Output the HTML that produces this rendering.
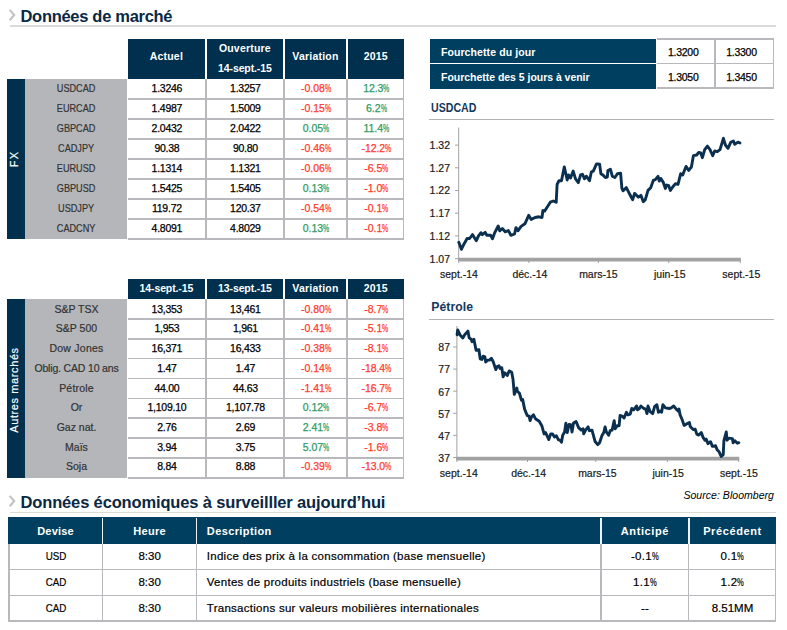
<!DOCTYPE html>
<html><head><meta charset="utf-8"><title>Données de marché</title>
<style>
html,body{margin:0;padding:0;background:#fff;}
body{width:787px;height:630px;position:relative;overflow:hidden;font-family:"Liberation Sans",sans-serif;color:#000;}
.a{position:absolute;white-space:nowrap;}
.c{text-align:center;}
.h1{font-weight:bold;font-size:16.5px;color:#0a2744;line-height:18px;letter-spacing:-0.3px;}
.hd{background:#00304e;color:#fff;font-weight:bold;font-size:10.5px;text-align:center;letter-spacing:0.2px;}
.t{-webkit-text-stroke:0.25px currentColor;font-size:10.5px;line-height:20px;text-align:center;letter-spacing:-0.25px;}
.lb{-webkit-text-stroke:0.2px currentColor;font-size:10.5px;line-height:20px;text-align:center;color:#333;}
.lbc{transform:scaleX(0.87);}
.p{letter-spacing:-0.05px;}
.pc{display:inline-block;transform:scaleX(0.66);transform-origin:0 50%;margin-right:-3.2px;}
.r{color:#ff3a2e;} .g{color:#2f9b63;}
.hl{background:#b9b9bd;}
.sec{font-weight:bold;font-size:11.5px;color:#12395c;line-height:14px;}
.ax{-webkit-text-stroke:0.2px currentColor;font-size:10.5px;line-height:12px;color:#1a1a1a;}
</style></head><body>
<svg class="a" style="left:8px;top:9px" width="9" height="14" viewBox="0 0 9 14"><path d="M1.7,0.9 L6.2,6.05 L1.7,11.2" fill="none" stroke="#c3c3c7" stroke-width="2.2"/></svg>
<div class="a h1" style="left:20.5px;top:6.5px;width:300px;height:18px;letter-spacing:-0.3px">Données de marché</div>
<div class="a " style="left:9.7px;top:25.0px;width:766px;height:1.5px;background:#dadada"></div>
<div class="a hd" style="left:127.9px;top:39.1px;width:77px;height:39.8px;line-height:35.3px">Actuel</div>
<div class="a hd" style="left:206.6px;top:39.1px;width:76.6px;height:39.8px;"><div style="margin-top:-1.0px;line-height:20px">Ouverture<br><span style="letter-spacing:-0.12px">14-sept.-15</span></div></div>
<div class="a hd" style="left:284.9px;top:39.1px;width:61.1px;height:39.8px;line-height:35.3px">Variation</div>
<div class="a hd" style="left:347.9px;top:39.1px;width:55.9px;height:39.8px;line-height:35.3px">2015</div>
<div class="a " style="left:7.2px;top:78.5px;width:17.6px;height:160.2px;background:#00304e"></div>
<div class="a " style="left:24.8px;top:78.5px;width:102.2px;height:160.2px;background:#b5b6ba"></div>
<div class="a" style="left:-46.1px;top:152.3px;width:120px;height:14px;line-height:14px;text-align:center;color:#fff;-webkit-text-stroke:0.18px #fff;font-size:11px;letter-spacing:1.2px;transform:rotate(-90deg);">FX</div>
<div class="a " style="left:127.5px;top:97.95px;width:276.5px;height:1.6px;background:#b9b9bd"></div>
<div class="a " style="left:127.5px;top:117.95px;width:276.5px;height:1.6px;background:#b9b9bd"></div>
<div class="a " style="left:127.5px;top:137.95px;width:276.5px;height:1.6px;background:#b9b9bd"></div>
<div class="a " style="left:127.5px;top:157.95px;width:276.5px;height:1.6px;background:#b9b9bd"></div>
<div class="a " style="left:127.5px;top:177.95px;width:276.5px;height:1.6px;background:#b9b9bd"></div>
<div class="a " style="left:127.5px;top:197.95px;width:276.5px;height:1.6px;background:#b9b9bd"></div>
<div class="a " style="left:127.5px;top:217.95px;width:276.5px;height:1.6px;background:#b9b9bd"></div>
<div class="a " style="left:127.5px;top:237.95px;width:276.5px;height:1.6px;background:#b9b9bd"></div>
<div class="a " style="left:205.15px;top:78.9px;width:1.6px;height:160.6px;background:#b9b9bd"></div>
<div class="a " style="left:283.25px;top:78.9px;width:1.6px;height:160.6px;background:#b9b9bd"></div>
<div class="a " style="left:346.2px;top:78.9px;width:1.6px;height:160.6px;background:#b9b9bd"></div>
<div class="a " style="left:402.8px;top:78.9px;width:1.3px;height:160.6px;background:#b9b9bd"></div>
<div class="a lb lbc" style="left:25.4px;top:78.3px;width:102.2px;height:20px;">USDCAD</div>
<div class="a t" style="left:128.4px;top:78.3px;width:77px;height:20px;">1.3246</div>
<div class="a t" style="left:207.1px;top:78.3px;width:76.6px;height:20px;">1.3257</div>
<div class="a t r p" style="left:285.4px;top:78.3px;width:61.1px;height:20px;">-0.08<span class="pc">%</span></div>
<div class="a t g p" style="left:348.4px;top:78.3px;width:55.9px;height:20px;">12.3<span class="pc">%</span></div>
<div class="a lb lbc" style="left:25.4px;top:98.3px;width:102.2px;height:20px;">EURCAD</div>
<div class="a t" style="left:128.4px;top:98.3px;width:77px;height:20px;">1.4987</div>
<div class="a t" style="left:207.1px;top:98.3px;width:76.6px;height:20px;">1.5009</div>
<div class="a t r p" style="left:285.4px;top:98.3px;width:61.1px;height:20px;">-0.15<span class="pc">%</span></div>
<div class="a t g p" style="left:348.4px;top:98.3px;width:55.9px;height:20px;">6.2<span class="pc">%</span></div>
<div class="a lb lbc" style="left:25.4px;top:118.3px;width:102.2px;height:20px;">GBPCAD</div>
<div class="a t" style="left:128.4px;top:118.3px;width:77px;height:20px;">2.0432</div>
<div class="a t" style="left:207.1px;top:118.3px;width:76.6px;height:20px;">2.0422</div>
<div class="a t g p" style="left:285.4px;top:118.3px;width:61.1px;height:20px;">0.05<span class="pc">%</span></div>
<div class="a t g p" style="left:348.4px;top:118.3px;width:55.9px;height:20px;">11.4<span class="pc">%</span></div>
<div class="a lb lbc" style="left:25.4px;top:138.3px;width:102.2px;height:20px;">CADJPY</div>
<div class="a t" style="left:128.4px;top:138.3px;width:77px;height:20px;">90.38</div>
<div class="a t" style="left:207.1px;top:138.3px;width:76.6px;height:20px;">90.80</div>
<div class="a t r p" style="left:285.4px;top:138.3px;width:61.1px;height:20px;">-0.46<span class="pc">%</span></div>
<div class="a t r p" style="left:348.4px;top:138.3px;width:55.9px;height:20px;">-12.2<span class="pc">%</span></div>
<div class="a lb lbc" style="left:25.4px;top:158.3px;width:102.2px;height:20px;">EURUSD</div>
<div class="a t" style="left:128.4px;top:158.3px;width:77px;height:20px;">1.1314</div>
<div class="a t" style="left:207.1px;top:158.3px;width:76.6px;height:20px;">1.1321</div>
<div class="a t r p" style="left:285.4px;top:158.3px;width:61.1px;height:20px;">-0.06<span class="pc">%</span></div>
<div class="a t r p" style="left:348.4px;top:158.3px;width:55.9px;height:20px;">-6.5<span class="pc">%</span></div>
<div class="a lb lbc" style="left:25.4px;top:178.3px;width:102.2px;height:20px;">GBPUSD</div>
<div class="a t" style="left:128.4px;top:178.3px;width:77px;height:20px;">1.5425</div>
<div class="a t" style="left:207.1px;top:178.3px;width:76.6px;height:20px;">1.5405</div>
<div class="a t g p" style="left:285.4px;top:178.3px;width:61.1px;height:20px;">0.13<span class="pc">%</span></div>
<div class="a t r p" style="left:348.4px;top:178.3px;width:55.9px;height:20px;">-1.0<span class="pc">%</span></div>
<div class="a lb lbc" style="left:25.4px;top:198.3px;width:102.2px;height:20px;">USDJPY</div>
<div class="a t" style="left:128.4px;top:198.3px;width:77px;height:20px;">119.72</div>
<div class="a t" style="left:207.1px;top:198.3px;width:76.6px;height:20px;">120.37</div>
<div class="a t r p" style="left:285.4px;top:198.3px;width:61.1px;height:20px;">-0.54<span class="pc">%</span></div>
<div class="a t r p" style="left:348.4px;top:198.3px;width:55.9px;height:20px;">-0.1<span class="pc">%</span></div>
<div class="a lb lbc" style="left:25.4px;top:218.3px;width:102.2px;height:20px;">CADCNY</div>
<div class="a t" style="left:128.4px;top:218.3px;width:77px;height:20px;">4.8091</div>
<div class="a t" style="left:207.1px;top:218.3px;width:76.6px;height:20px;">4.8029</div>
<div class="a t g p" style="left:285.4px;top:218.3px;width:61.1px;height:20px;">0.13<span class="pc">%</span></div>
<div class="a t r p" style="left:348.4px;top:218.3px;width:55.9px;height:20px;">-0.1<span class="pc">%</span></div>
<div class="a hd" style="left:127.9px;top:278.8px;width:77px;height:20.4px;line-height:19.9px"><span style="letter-spacing:-0.12px">14-sept.-15</span></div>
<div class="a hd" style="left:206.6px;top:278.8px;width:76.6px;height:20.4px;line-height:19.9px"><span style="letter-spacing:-0.12px">13-sept.-15</span></div>
<div class="a hd" style="left:284.9px;top:278.8px;width:61.1px;height:20.4px;line-height:19.9px">Variation</div>
<div class="a hd" style="left:347.9px;top:278.8px;width:55.9px;height:20.4px;line-height:19.9px">2015</div>
<div class="a " style="left:7.2px;top:298.8px;width:17.6px;height:179.02999999999997px;background:#00304e"></div>
<div class="a " style="left:24.8px;top:298.8px;width:102.2px;height:179.02999999999997px;background:#b5b6ba"></div>
<div class="a" style="left:-46.1px;top:382.915px;width:120px;height:14px;line-height:14px;text-align:center;color:#fff;-webkit-text-stroke:0.18px #fff;font-size:11px;letter-spacing:0.6px;transform:rotate(-90deg);">Autres marchés</div>
<div class="a " style="left:127.5px;top:318.12px;width:276.5px;height:1.6px;background:#b9b9bd"></div>
<div class="a " style="left:127.5px;top:337.99px;width:276.5px;height:1.6px;background:#b9b9bd"></div>
<div class="a " style="left:127.5px;top:357.86px;width:276.5px;height:1.6px;background:#b9b9bd"></div>
<div class="a " style="left:127.5px;top:377.73px;width:276.5px;height:1.6px;background:#b9b9bd"></div>
<div class="a " style="left:127.5px;top:397.6px;width:276.5px;height:1.6px;background:#b9b9bd"></div>
<div class="a " style="left:127.5px;top:417.47px;width:276.5px;height:1.6px;background:#b9b9bd"></div>
<div class="a " style="left:127.5px;top:437.34px;width:276.5px;height:1.6px;background:#b9b9bd"></div>
<div class="a " style="left:127.5px;top:457.21px;width:276.5px;height:1.6px;background:#b9b9bd"></div>
<div class="a " style="left:127.5px;top:477.08px;width:276.5px;height:1.6px;background:#b9b9bd"></div>
<div class="a " style="left:205.15px;top:299.2px;width:1.6px;height:179.42999999999998px;background:#b9b9bd"></div>
<div class="a " style="left:283.25px;top:299.2px;width:1.6px;height:179.42999999999998px;background:#b9b9bd"></div>
<div class="a " style="left:346.2px;top:299.2px;width:1.6px;height:179.42999999999998px;background:#b9b9bd"></div>
<div class="a " style="left:402.8px;top:299.2px;width:1.3px;height:179.42999999999998px;background:#b9b9bd"></div>
<div class="a lb" style="left:25.4px;top:298.6px;width:102.2px;height:20px;">S&amp;P TSX</div>
<div class="a t" style="left:128.4px;top:298.6px;width:77px;height:20px;">13,353</div>
<div class="a t" style="left:207.1px;top:298.6px;width:76.6px;height:20px;">13,461</div>
<div class="a t r p" style="left:285.4px;top:298.6px;width:61.1px;height:20px;">-0.80<span class="pc">%</span></div>
<div class="a t r p" style="left:348.4px;top:298.6px;width:55.9px;height:20px;">-8.7<span class="pc">%</span></div>
<div class="a lb" style="left:25.4px;top:318.3px;width:102.2px;height:20px;">S&amp;P 500</div>
<div class="a t" style="left:128.4px;top:318.3px;width:77px;height:20px;">1,953</div>
<div class="a t" style="left:207.1px;top:318.3px;width:76.6px;height:20px;">1,961</div>
<div class="a t r p" style="left:285.4px;top:318.3px;width:61.1px;height:20px;">-0.41<span class="pc">%</span></div>
<div class="a t r p" style="left:348.4px;top:318.3px;width:55.9px;height:20px;">-5.1<span class="pc">%</span></div>
<div class="a lb" style="left:25.4px;top:338.1px;width:102.2px;height:20px;"><span style="letter-spacing:0.25px">Dow Jones</span></div>
<div class="a t" style="left:128.4px;top:338.1px;width:77px;height:20px;">16,371</div>
<div class="a t" style="left:207.1px;top:338.1px;width:76.6px;height:20px;">16,433</div>
<div class="a t r p" style="left:285.4px;top:338.1px;width:61.1px;height:20px;">-0.38<span class="pc">%</span></div>
<div class="a t r p" style="left:348.4px;top:338.1px;width:55.9px;height:20px;">-8.1<span class="pc">%</span></div>
<div class="a lb" style="left:25.4px;top:357.8px;width:102.2px;height:20px;"><span style="letter-spacing:-0.17px">Oblig. CAD 10 ans</span></div>
<div class="a t" style="left:128.4px;top:357.8px;width:77px;height:20px;">1.47</div>
<div class="a t" style="left:207.1px;top:357.8px;width:76.6px;height:20px;">1.47</div>
<div class="a t r p" style="left:285.4px;top:357.8px;width:61.1px;height:20px;">-0.14<span class="pc">%</span></div>
<div class="a t r p" style="left:348.4px;top:357.8px;width:55.9px;height:20px;">-18.4<span class="pc">%</span></div>
<div class="a lb" style="left:25.4px;top:377.5px;width:102.2px;height:20px;"><span style="letter-spacing:0.2px">Pétrole</span></div>
<div class="a t" style="left:128.4px;top:377.5px;width:77px;height:20px;">44.00</div>
<div class="a t" style="left:207.1px;top:377.5px;width:76.6px;height:20px;">44.63</div>
<div class="a t r p" style="left:285.4px;top:377.5px;width:61.1px;height:20px;">-1.41<span class="pc">%</span></div>
<div class="a t r p" style="left:348.4px;top:377.5px;width:55.9px;height:20px;">-16.7<span class="pc">%</span></div>
<div class="a lb" style="left:25.4px;top:397.2px;width:102.2px;height:20px;">Or</div>
<div class="a t" style="left:128.4px;top:397.2px;width:77px;height:20px;">1,109.10</div>
<div class="a t" style="left:207.1px;top:397.2px;width:76.6px;height:20px;">1,107.78</div>
<div class="a t g p" style="left:285.4px;top:397.2px;width:61.1px;height:20px;">0.12<span class="pc">%</span></div>
<div class="a t r p" style="left:348.4px;top:397.2px;width:55.9px;height:20px;">-6.7<span class="pc">%</span></div>
<div class="a lb" style="left:25.4px;top:417.0px;width:102.2px;height:20px;">Gaz nat.</div>
<div class="a t" style="left:128.4px;top:417.0px;width:77px;height:20px;">2.76</div>
<div class="a t" style="left:207.1px;top:417.0px;width:76.6px;height:20px;">2.69</div>
<div class="a t g p" style="left:285.4px;top:417.0px;width:61.1px;height:20px;">2.41<span class="pc">%</span></div>
<div class="a t r p" style="left:348.4px;top:417.0px;width:55.9px;height:20px;">-3.8<span class="pc">%</span></div>
<div class="a lb" style="left:25.4px;top:436.7px;width:102.2px;height:20px;">Maïs</div>
<div class="a t" style="left:128.4px;top:436.7px;width:77px;height:20px;">3.94</div>
<div class="a t" style="left:207.1px;top:436.7px;width:76.6px;height:20px;">3.75</div>
<div class="a t g p" style="left:285.4px;top:436.7px;width:61.1px;height:20px;">5.07<span class="pc">%</span></div>
<div class="a t r p" style="left:348.4px;top:436.7px;width:55.9px;height:20px;">-1.6<span class="pc">%</span></div>
<div class="a lb" style="left:25.4px;top:456.4px;width:102.2px;height:20px;">Soja</div>
<div class="a t" style="left:128.4px;top:456.4px;width:77px;height:20px;">8.84</div>
<div class="a t" style="left:207.1px;top:456.4px;width:76.6px;height:20px;">8.88</div>
<div class="a t r p" style="left:285.4px;top:456.4px;width:61.1px;height:20px;">-0.39<span class="pc">%</span></div>
<div class="a t r p" style="left:348.4px;top:456.4px;width:55.9px;height:20px;">-13.0<span class="pc">%</span></div>
<div class="a " style="left:429.9px;top:38.8px;width:226.6px;height:23.9px;background:#003f5f;color:#fff;font-weight:bold;font-size:10.5px;letter-spacing:0.1px;line-height:27.8px;padding-left:11px;box-sizing:border-box">Fourchette du jour</div>
<div class="a " style="left:429.9px;top:64.3px;width:226.6px;height:24.4px;background:#003f5f;color:#fff;font-weight:bold;font-size:10.5px;letter-spacing:-0.03px;line-height:26px;padding-left:11.2px;box-sizing:border-box">Fourchette des 5 jours à venir</div>
<div class="a " style="left:656.5px;top:38.4px;width:117.6px;height:1.5px;background:#b9b9bd"></div>
<div class="a " style="left:656.5px;top:62.8px;width:117.6px;height:1.5px;background:#b9b9bd"></div>
<div class="a " style="left:656.5px;top:87.2px;width:117.6px;height:1.5px;background:#b9b9bd"></div>
<div class="a " style="left:714.2px;top:38.4px;width:1.5px;height:50.3px;background:#b9b9bd"></div>
<div class="a " style="left:772.7px;top:38.4px;width:1.5px;height:50.3px;background:#b9b9bd"></div>
<div class="a t" style="left:654px;top:41.8px;width:58.5px;height:20px;">1.3200</div>
<div class="a t" style="left:712.2px;top:41.8px;width:58.5px;height:20px;">1.3300</div>
<div class="a t" style="left:654px;top:66.8px;width:58.5px;height:20px;">1.3050</div>
<div class="a t" style="left:712.2px;top:66.8px;width:58.5px;height:20px;">1.3450</div>
<div class="a sec" style="left:431.3px;top:100.6px;width:100px;height:14px;font-size:12.2px;transform:scaleX(0.87);transform-origin:0 0">USDCAD</div>
<div class="a " style="left:429px;top:118.6px;width:345px;height:1.2px;background:#b4b4b8"></div>
<svg class="a" style="left:0;top:0" width="787" height="630" viewBox="0 0 787 630">
<g stroke="#a2a2a2" fill="none">
<path d="M458.7,127.5 V261" stroke-width="1"/>
<path d="M455,145.1 H458.7" stroke-width="1"/>
<path d="M455,167.8 H458.7" stroke-width="1"/>
<path d="M455,190.5 H458.7" stroke-width="1"/>
<path d="M455,213.2 H458.7" stroke-width="1"/>
<path d="M455,235.9 H458.7" stroke-width="1"/>
<path d="M455,258.6 H458.7" stroke-width="1"/>
<path d="M458.2,259.7 H740.8" stroke-width="3.8"/>
<path d="M458.7,259 V263" stroke-width="1"/>
<path d="M528.9,259 V263" stroke-width="1"/>
<path d="M598.4,259 V263" stroke-width="1"/>
<path d="M668.8,259 V263" stroke-width="1"/>
<path d="M740.3,259 V263" stroke-width="1"/>
<path d="M456.9,326 V460" stroke-width="1"/>
<path d="M453.2,347 H456.9" stroke-width="1"/>
<path d="M453.2,369.1 H456.9" stroke-width="1"/>
<path d="M453.2,391.2 H456.9" stroke-width="1"/>
<path d="M453.2,413.3 H456.9" stroke-width="1"/>
<path d="M453.2,435.4 H456.9" stroke-width="1"/>
<path d="M453.2,457.5 H456.9" stroke-width="1"/>
<path d="M456.4,458.7 H739.2" stroke-width="3.8"/>
<path d="M456.9,458 V462" stroke-width="1"/>
<path d="M527.5,458 V462" stroke-width="1"/>
<path d="M595.8,458 V462" stroke-width="1"/>
<path d="M667.3,458 V462" stroke-width="1"/>
<path d="M738.7,458 V462" stroke-width="1"/>
</g>
<path d="M458.8,242.3 L461.4,249.3 L463.9,244.2 L467.1,238.5 L469.6,238.5 L472.5,234.6 L474.1,237.2 L476.3,240.7 L478.5,235.9 L481.0,232.7 L482.3,234.6 L485.2,232.4 L486.8,235.3 L490.6,235.3 L492.5,238.7 L494.4,233.4 L498.2,226.0 L499.7,230.8 L502.3,228.5 L505.2,231.8 L508.4,230.6 L510.9,235.3 L514.5,234.0 L516.0,227.6 L517.9,230.8 L521.1,226.4 L524.9,223.8 L528.7,215.3 L531.2,219.4 L535.1,217.5 L538.9,216.8 L542.0,217.5 L542.9,210.5 L544.6,211.1 L547.1,207.3 L550.3,202.2 L553.3,201.0 L556.2,202.3 L557.1,184.5 L559.0,180.7 L561.5,180.7 L564.3,166.9 L567.2,180.0 L568.5,174.9 L570.4,178.1 L573.2,171.1 L575.5,178.8 L578.3,182.6 L580.6,174.9 L582.5,174.3 L584.4,178.8 L586.3,176.2 L589.5,180.7 L591.4,171.8 L593.3,171.1 L596.5,163.9 L599.6,164.1 L600.9,173.7 L602.8,174.9 L605.4,177.5 L607.3,177.1 L607.9,170.5 L610.4,169.2 L612.3,176.2 L614.9,177.5 L617.4,173.7 L620.6,173.3 L621.9,188.3 L623.1,190.8 L626.3,187.6 L628.9,192.7 L632.7,199.7 L634.6,193.4 L638.4,197.2 L640.9,195.3 L643.3,201.7 L645.3,199.7 L648.0,190.4 L650.7,187.7 L653.3,180.4 L655.3,179.7 L658.0,176.4 L659.3,181.0 L660.7,178.4 L663.3,182.4 L665.4,188.4 L666.7,185.0 L668.7,185.7 L670.4,190.4 L672.7,187.0 L675.4,183.7 L678.0,184.4 L680.7,173.7 L682.7,175.0 L686.0,166.4 L688.7,170.4 L691.4,167.0 L693.4,155.7 L696.7,155.0 L698.7,152.4 L700.7,153.0 L702.4,157.7 L704.7,149.7 L707.4,146.1 L710.0,149.7 L712.7,155.7 L714.7,151.0 L717.4,151.7 L720.0,149.7 L723.4,138.3 L725.4,145.0 L728.0,148.3 L730.7,142.3 L733.4,141.0 L734.7,144.3 L738.0,142.1 L740.0,143.0" fill="none" stroke="#0b2f4e" stroke-width="2.9" stroke-linejoin="round" stroke-linecap="round"/>
<path d="M457.1,334.7 L457.7,329.9 L460.3,335.3 L462.8,337.9 L464.7,334.7 L467.9,331.1 L469.2,337.9 L471.1,339.2 L472.1,341.7 L473.9,339.2 L476.1,350.2 L478.9,349.7 L480.2,358.8 L481.9,359.5 L483.1,356.3 L484.8,356.6 L485.7,362.0 L487.6,360.1 L489.5,360.1 L491.4,358.2 L493.3,362.0 L495.8,369.6 L497.1,366.5 L499.0,365.8 L500.0,368.4 L501.8,367.7 L503.1,376.9 L504.7,372.8 L507.3,375.4 L509.2,370.9 L511.7,372.2 L513.0,379.2 L514.3,394.4 L516.8,388.1 L517.4,391.3 L519.5,393.3 L521.4,400.2 L522.7,399.6 L524.6,409.1 L527.2,415.5 L529.1,416.1 L530.1,420.6 L531.6,416.8 L533.5,414.9 L535.4,418.7 L539.2,421.2 L541.8,425.7 L544.1,433.9 L545.6,432.6 L548.8,439.6 L550.7,433.9 L552.6,433.9 L554.5,437.1 L556.4,435.8 L558.3,439.6 L560.2,440.3 L561.5,442.2 L562.7,435.2 L564.6,432.0 L565.9,423.1 L567.2,432.6 L569.1,424.4 L571.0,425.0 L572.0,432.0 L573.5,423.1 L576.1,421.6 L578.6,427.6 L581.2,430.1 L583.1,428.8 L583.7,433.9 L585.6,430.1 L588.1,426.9 L589.4,430.7 L592.0,430.1 L593.2,434.6 L595.1,441.5 L597.7,444.7 L599.6,442.8 L601.9,435.8 L603.8,432.6 L605.1,426.9 L606.4,432.0 L608.6,435.2 L610.2,430.7 L612.1,430.1 L614.2,420.6 L615.2,428.8 L617.2,425.7 L619.1,425.7 L620.1,415.5 L622.2,416.1 L624.1,418.0 L626.4,412.3 L628.0,414.9 L630.2,414.2 L631.8,408.5 L633.7,409.8 L636.6,406.0 L637.5,409.8 L639.4,408.5 L640.9,406.0 L643.8,408.5 L645.7,409.1 L647.0,413.6 L648.0,406.0 L650.2,411.7 L652.7,413.6 L654.6,406.6 L656.9,404.7 L658.4,412.3 L660.4,411.0 L661.6,412.3 L662.9,404.7 L665.4,407.9 L669.3,408.5 L671.2,407.9 L673.7,406.0 L676.2,409.1 L678.1,411.0 L679.0,409.1 L680.1,414.9 L682.0,419.3 L684.1,425.4 L686.6,423.9 L689.4,422.6 L690.2,426.4 L693.2,429.5 L695.2,429.3 L696.8,434.1 L698.8,435.1 L701.3,432.5 L702.9,437.1 L704.9,440.2 L706.2,439.1 L708.0,443.7 L710.5,441.7 L712.5,446.3 L715.6,445.7 L717.1,449.8 L719.1,451.8 L721.2,456.4 L723.2,454.9 L723.9,440.7 L726.3,432.0 L727.0,440.2 L728.8,438.1 L732.4,438.6 L733.1,442.7 L734.9,440.7 L737.4,443.2 L738.8,442.7" fill="none" stroke="#0b2f4e" stroke-width="2.9" stroke-linejoin="round" stroke-linecap="round"/>
</svg>
<div class="a ax" style="left:420px;top:139.0px;width:30px;height:12px;text-align:right">1.32</div>
<div class="a ax" style="left:420px;top:161.70000000000002px;width:30px;height:12px;text-align:right">1.27</div>
<div class="a ax" style="left:420px;top:184.4px;width:30px;height:12px;text-align:right">1.22</div>
<div class="a ax" style="left:420px;top:207.1px;width:30px;height:12px;text-align:right">1.17</div>
<div class="a ax" style="left:420px;top:229.8px;width:30px;height:12px;text-align:right">1.12</div>
<div class="a ax" style="left:420px;top:252.50000000000003px;width:30px;height:12px;text-align:right">1.07</div>
<div class="a ax" style="left:429px;top:267.5px;width:60px;height:12px;text-align:center">sept.-14</div>
<div class="a ax" style="left:499.9px;top:267.5px;width:60px;height:12px;text-align:center">déc.-14</div>
<div class="a ax" style="left:568.4px;top:267.5px;width:60px;height:12px;text-align:center">mars-15</div>
<div class="a ax" style="left:639.8px;top:267.5px;width:60px;height:12px;text-align:center">juin-15</div>
<div class="a ax" style="left:711.3px;top:267.5px;width:60px;height:12px;text-align:center">sept.-15</div>
<div class="a sec" style="left:431.3px;top:300px;width:100px;height:14px;font-size:12.2px;letter-spacing:0.05px">Pétrole</div>
<div class="a " style="left:429px;top:318.7px;width:345px;height:1.2px;background:#b4b4b8"></div>
<div class="a ax" style="left:420px;top:341.3px;width:30px;height:12px;text-align:right">87</div>
<div class="a ax" style="left:420px;top:363.40000000000003px;width:30px;height:12px;text-align:right">77</div>
<div class="a ax" style="left:420px;top:385.5px;width:30px;height:12px;text-align:right">67</div>
<div class="a ax" style="left:420px;top:407.6px;width:30px;height:12px;text-align:right">57</div>
<div class="a ax" style="left:420px;top:429.7px;width:30px;height:12px;text-align:right">47</div>
<div class="a ax" style="left:420px;top:451.8px;width:30px;height:12px;text-align:right">37</div>
<div class="a ax" style="left:428.8px;top:466.5px;width:60px;height:12px;text-align:center">sept.-14</div>
<div class="a ax" style="left:498.70000000000005px;top:466.5px;width:60px;height:12px;text-align:center">déc.-14</div>
<div class="a ax" style="left:567.4px;top:466.5px;width:60px;height:12px;text-align:center">mars-15</div>
<div class="a ax" style="left:638.2px;top:466.5px;width:60px;height:12px;text-align:center">juin-15</div>
<div class="a ax" style="left:709px;top:466.5px;width:60px;height:12px;text-align:center">sept.-15</div>
<div class="a " style="left:674px;top:489.2px;width:100px;height:12px;text-align:right;font-style:italic;font-size:10.5px;line-height:12px;letter-spacing:0.04px">Source: Bloomberg</div>
<svg class="a" style="left:8px;top:495.4px" width="9" height="14" viewBox="0 0 9 14"><path d="M1.7,0.9 L6.2,6.05 L1.7,11.2" fill="none" stroke="#c3c3c7" stroke-width="2.2"/></svg>
<div class="a h1" style="left:20.5px;top:492.5px;width:500px;height:18px;letter-spacing:-0.145px">Données économiques à surveilller aujourd’hui</div>
<div class="a " style="left:9.7px;top:511.7px;width:766px;height:1.5px;background:#dadada"></div>
<div class="a " style="left:8.2px;top:517.2px;width:768.0px;height:26.399999999999977px;background:#003f5f"></div>
<div class="a " style="left:101.69999999999999px;top:518.2px;width:1.8px;height:25.399999999999977px;background:#eef2f5"></div>
<div class="a " style="left:195.7px;top:518.2px;width:1.8px;height:25.399999999999977px;background:#eef2f5"></div>
<div class="a " style="left:600.2px;top:518.2px;width:1.8px;height:25.399999999999977px;background:#eef2f5"></div>
<div class="a " style="left:687.9px;top:518.2px;width:1.8px;height:25.399999999999977px;background:#eef2f5"></div>
<div class="a " style="left:8.5px;top:518.45px;width:94.1px;height:26.4px;color:#fff;font-weight:bold;font-size:11px;letter-spacing:0.2px;line-height:26.4px;text-align:center">Devise</div>
<div class="a " style="left:102.6px;top:518.45px;width:94.0px;height:26.4px;color:#fff;font-weight:bold;font-size:11px;letter-spacing:0.3px;line-height:26.4px;text-align:center">Heure</div>
<div class="a " style="left:196.6px;top:518.45px;width:404.5px;height:26.4px;color:#fff;font-weight:bold;font-size:11px;letter-spacing:0.4px;line-height:26.4px;text-align:left;padding-left:10.2px;box-sizing:border-box">Description</div>
<div class="a " style="left:601.1px;top:518.45px;width:87.69999999999993px;height:26.4px;color:#fff;font-weight:bold;font-size:11px;letter-spacing:0.6px;line-height:26.4px;text-align:center">Anticipé</div>
<div class="a " style="left:688.8px;top:518.45px;width:87.40000000000009px;height:26.4px;color:#fff;font-weight:bold;font-size:11px;letter-spacing:0.6px;line-height:26.4px;text-align:center">Précédent</div>
<div class="a " style="left:8.5px;top:568.65px;width:767.7px;height:1.4px;background:#b9b9bd"></div>
<div class="a " style="left:8.5px;top:594.55px;width:767.7px;height:1.4px;background:#b9b9bd"></div>
<div class="a " style="left:8.5px;top:620.25px;width:767.7px;height:1.4px;background:#b9b9bd"></div>
<div class="a " style="left:8.4px;top:543.6px;width:1.4px;height:78.05000000000003px;background:#b9b9bd"></div>
<div class="a " style="left:101.89999999999999px;top:543.6px;width:1.4px;height:78.05000000000003px;background:#b9b9bd"></div>
<div class="a " style="left:195.9px;top:543.6px;width:1.4px;height:78.05000000000003px;background:#b9b9bd"></div>
<div class="a " style="left:600.4px;top:543.6px;width:1.4px;height:78.05000000000003px;background:#b9b9bd"></div>
<div class="a " style="left:688.0999999999999px;top:543.6px;width:1.4px;height:78.05000000000003px;background:#b9b9bd"></div>
<div class="a " style="left:774.9px;top:543.6px;width:1.4px;height:78.05000000000003px;background:#b9b9bd"></div>
<div class="a " style="left:8.5px;top:544.3000000000001px;width:94.1px;height:25.8px;-webkit-text-stroke:0.2px currentColor;font-size:11.5px;line-height:25.8px;text-align:center;transform:scaleX(0.85)">USD</div>
<div class="a " style="left:102.6px;top:544.3000000000001px;width:94.0px;height:25.8px;-webkit-text-stroke:0.2px currentColor;font-size:11.5px;line-height:25.8px;text-align:center">8:30</div>
<div class="a " style="left:196.6px;top:544.3000000000001px;width:404.5px;height:25.8px;-webkit-text-stroke:0.2px currentColor;font-size:11.5px;line-height:25.8px;text-align:left;padding-left:10.2px;box-sizing:border-box;letter-spacing:0.27px">Indice des prix à la consommation (base mensuelle)</div>
<div class="a " style="left:601.1px;top:544.3000000000001px;width:87.69999999999993px;height:25.8px;-webkit-text-stroke:0.2px currentColor;font-size:11.5px;line-height:25.8px;text-align:center;letter-spacing:0.3px">-0.1<span class="pc" style="margin-right:-3.5px">%</span></div>
<div class="a " style="left:688.8px;top:544.3000000000001px;width:87.40000000000009px;height:25.8px;-webkit-text-stroke:0.2px currentColor;font-size:11.5px;line-height:25.8px;text-align:center;letter-spacing:0.3px">0.1<span class="pc" style="margin-right:-3.5px">%</span></div>
<div class="a " style="left:8.5px;top:570.0500000000001px;width:94.1px;height:25.9px;-webkit-text-stroke:0.2px currentColor;font-size:11.5px;line-height:25.9px;text-align:center;transform:scaleX(0.85)">CAD</div>
<div class="a " style="left:102.6px;top:570.0500000000001px;width:94.0px;height:25.9px;-webkit-text-stroke:0.2px currentColor;font-size:11.5px;line-height:25.9px;text-align:center">8:30</div>
<div class="a " style="left:196.6px;top:570.0500000000001px;width:404.5px;height:25.9px;-webkit-text-stroke:0.2px currentColor;font-size:11.5px;line-height:25.9px;text-align:left;padding-left:10.2px;box-sizing:border-box;letter-spacing:0.27px">Ventes de produits industriels (base mensuelle)</div>
<div class="a " style="left:601.1px;top:570.0500000000001px;width:87.69999999999993px;height:25.9px;-webkit-text-stroke:0.2px currentColor;font-size:11.5px;line-height:25.9px;text-align:center;letter-spacing:0.3px">1.1<span class="pc" style="margin-right:-3.5px">%</span></div>
<div class="a " style="left:688.8px;top:570.0500000000001px;width:87.40000000000009px;height:25.9px;-webkit-text-stroke:0.2px currentColor;font-size:11.5px;line-height:25.9px;text-align:center;letter-spacing:0.3px">1.2<span class="pc" style="margin-right:-3.5px">%</span></div>
<div class="a " style="left:8.5px;top:595.95px;width:94.1px;height:25.7px;-webkit-text-stroke:0.2px currentColor;font-size:11.5px;line-height:25.7px;text-align:center;transform:scaleX(0.85)">CAD</div>
<div class="a " style="left:102.6px;top:595.95px;width:94.0px;height:25.7px;-webkit-text-stroke:0.2px currentColor;font-size:11.5px;line-height:25.7px;text-align:center">8:30</div>
<div class="a " style="left:196.6px;top:595.95px;width:404.5px;height:25.7px;-webkit-text-stroke:0.2px currentColor;font-size:11.5px;line-height:25.7px;text-align:left;padding-left:10.2px;box-sizing:border-box;letter-spacing:0.27px">Transactions sur valeurs mobilières internationales</div>
<div class="a " style="left:601.1px;top:595.95px;width:87.69999999999993px;height:25.7px;-webkit-text-stroke:0.2px currentColor;font-size:11.5px;line-height:25.7px;text-align:center">--</div>
<div class="a " style="left:688.8px;top:595.95px;width:87.40000000000009px;height:25.7px;-webkit-text-stroke:0.2px currentColor;font-size:11.5px;line-height:25.7px;text-align:center">8.51MM</div>
</body></html>
